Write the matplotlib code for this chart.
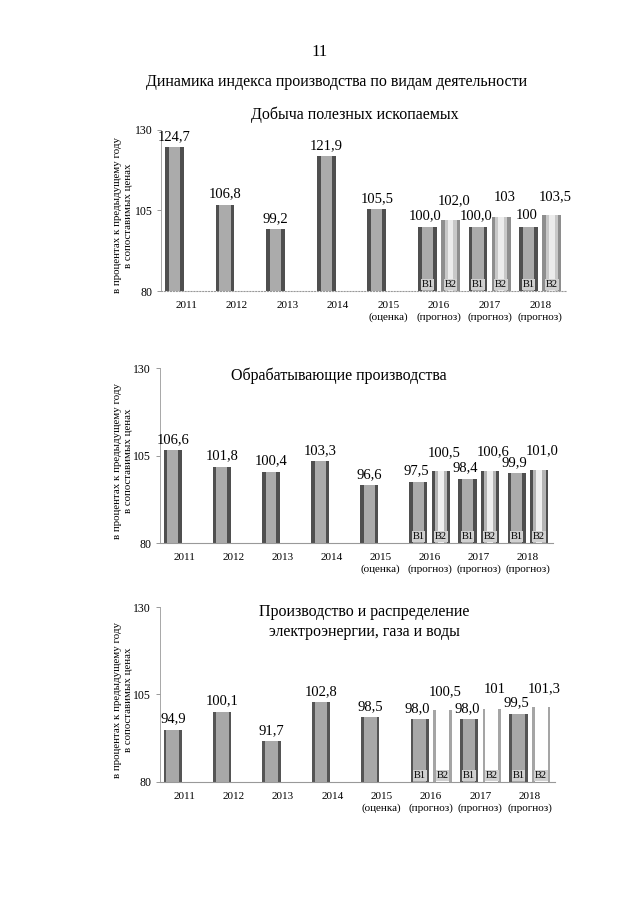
import numpy as np
import matplotlib
matplotlib.use("Agg")
import matplotlib.pyplot as plt

plt.rcParams['font.family'] = ['Liberation Serif', 'DejaVu Serif']

years = ['2011', '2012', '2013', '2014', '2015\n(оценка)',
         '2016\n(прогноз)', '2017\n(прогноз)', '2018\n(прогноз)']
nan = np.nan

mining_v1 = [124.7, 106.8, 99.2, 121.9, 105.5, 100.0, 100.0, 100.0]
mining_v2 = [nan, nan, nan, nan, nan, 102.0, 103.0, 103.5]
mining_l1 = ['124,7', '106,8', '99,2', '121,9', '105,5', '100,0', '100,0', '100']
mining_l2 = ['', '', '', '', '', '102,0', '103', '103,5']

manuf_v1 = [106.6, 101.8, 100.4, 103.3, 96.6, 97.5, 98.4, 99.9]
manuf_v2 = [nan, nan, nan, nan, nan, 100.5, 100.6, 101.0]
manuf_l1 = ['106,6', '101,8', '100,4', '103,3', '96,6', '97,5', '98,4', '99,9']
manuf_l2 = ['', '', '', '', '', '100,5', '100,6', '101,0']

energy_v1 = [94.9, 100.1, 91.7, 102.8, 98.5, 98.0, 98.0, 99.5]
energy_v2 = [nan, nan, nan, nan, nan, 100.5, 101.0, 101.3]
energy_l1 = ['94,9', '100,1', '91,7', '102,8', '98,5', '98,0', '98,0', '99,5']
energy_l2 = ['', '', '', '', '', '100,5', '101', '101,3']

variant_labels = ['В1', 'В2']
yticks = [80, 105, 130]
ylabel = 'в процентах к предыдущему году\nв сопоставимых ценах'

fig = plt.figure(figsize=(6.4, 9.05), dpi=100)
fig.patch.set_facecolor('white')

fig.text(320/640, 1-52/905, '11', fontsize=12, ha='center', va='center')
fig.text(337/640, 1-82/905, 'Динамика индекса производства по видам деятельности',
         fontsize=11.5, ha='center', va='center')


def layered(ax, x, vals, w, layers):
    for frac, col in layers:
        ax.bar(x, np.array(vals) - 80, bottom=80, width=w*frac, color=col,
               linewidth=0, zorder=2)


def make_chart(rect, v1, v2, l1, l2, s1, s2, bottom_style, title, tpos, title_ls=1.2):
    ax = fig.add_axes(rect)
    x = np.arange(len(years))
    w = 0.37
    off = 0.23
    layered(ax, x - off, v1, w, s1)
    layered(ax, x + off, v2, w, s2)
    for i in range(len(years)):
        has2 = not np.isnan(v2[i])
        if not np.isnan(v1[i]):
            ax.annotate(l1[i], (x[i] - off - (0.04 if has2 else 0), v1[i]),
                        xytext=(0, 3), textcoords='offset points',
                        ha='center', va='bottom', fontsize=10.5)
        if has2:
            ax.annotate(l2[i], (x[i] + off + 0.06, v2[i]), xytext=(0, 9),
                        textcoords='offset points', ha='center', va='bottom',
                        fontsize=10.5)
            for xx, lab in ((x[i] - off, variant_labels[0]), (x[i] + off, variant_labels[1])):
                ax.text(xx, 80.6, lab, ha='center', va='bottom', fontsize=7.5,
                        zorder=4,
                        bbox=dict(boxstyle='square,pad=0.08', fc='#d0d0d0', ec='none'))
    ax.set_xlim(-0.5, len(years) - 0.5)
    ax.set_ylim(80, 130)
    ax.set_yticks(yticks)
    ax.set_yticklabels([str(t) for t in yticks], fontsize=8.5)
    ax.set_xticks(x)
    ax.set_xticklabels(years, fontsize=8, linespacing=1.4)
    ax.tick_params(axis='x', length=0, pad=7)
    ax.tick_params(axis='y', length=3, color='#888888', width=0.6, pad=3)
    for s in ('top', 'right'):
        ax.spines[s].set_visible(False)
    ax.spines['left'].set_color('#999999')
    ax.spines['left'].set_linewidth(0.6)
    ax.spines['bottom'].set_color('#999999')
    ax.spines['bottom'].set_linewidth(0.8)
    ax.spines['bottom'].set_linestyle(bottom_style)
    ax.text(-0.093, 0.47, ylabel, transform=ax.transAxes, rotation=90,
            ha='center', va='center', fontsize=7.8, linespacing=1.3)
    fig.text(tpos[0]/640, 1-tpos[1]/905, title, fontsize=11.5, ha='center',
             va='center', linespacing=title_ls)
    ax.set_facecolor('none')
    return ax


dark = [(1.0, '#4f4f4f'), (0.6, '#ababab')]
mining_b2 = [(1.0, '#8e8e8e'), (0.65, '#c8c8c8'), (0.3, '#ececec')]
manuf_b2 = [(1.0, '#4f4f4f'), (0.7, '#b5b5b5'), (0.35, '#f0f0f0')]
energy_b1 = [(1.0, '#555555'), (0.7, '#a8a8a8')]
energy_b2 = [(1.0, '#a5a5a5'), (0.7, '#ffffff')]

make_chart([160.7/640, 1-291/905, 404.8/640, 161/905],
           mining_v1, mining_v2, mining_l1, mining_l2, dark, mining_b2, ':',
           'Добыча полезных ископаемых', (355, 115))
make_chart([159.5/640, 1-543/905, 393/640, 175/905],
           manuf_v1, manuf_v2, manuf_l1, manuf_l2, dark, manuf_b2, '-',
           'Обрабатывающие производства', (339, 376))
make_chart([159.5/640, 1-782/905, 395/640, 175/905],
           energy_v1, energy_v2, energy_l1, energy_l2, energy_b1, energy_b2, '-',
           'Производство и распределение\nэлектроэнергии, газа и воды', (364, 622), 1.3)

fig.savefig('out.png', dpi=100, facecolor='white')
